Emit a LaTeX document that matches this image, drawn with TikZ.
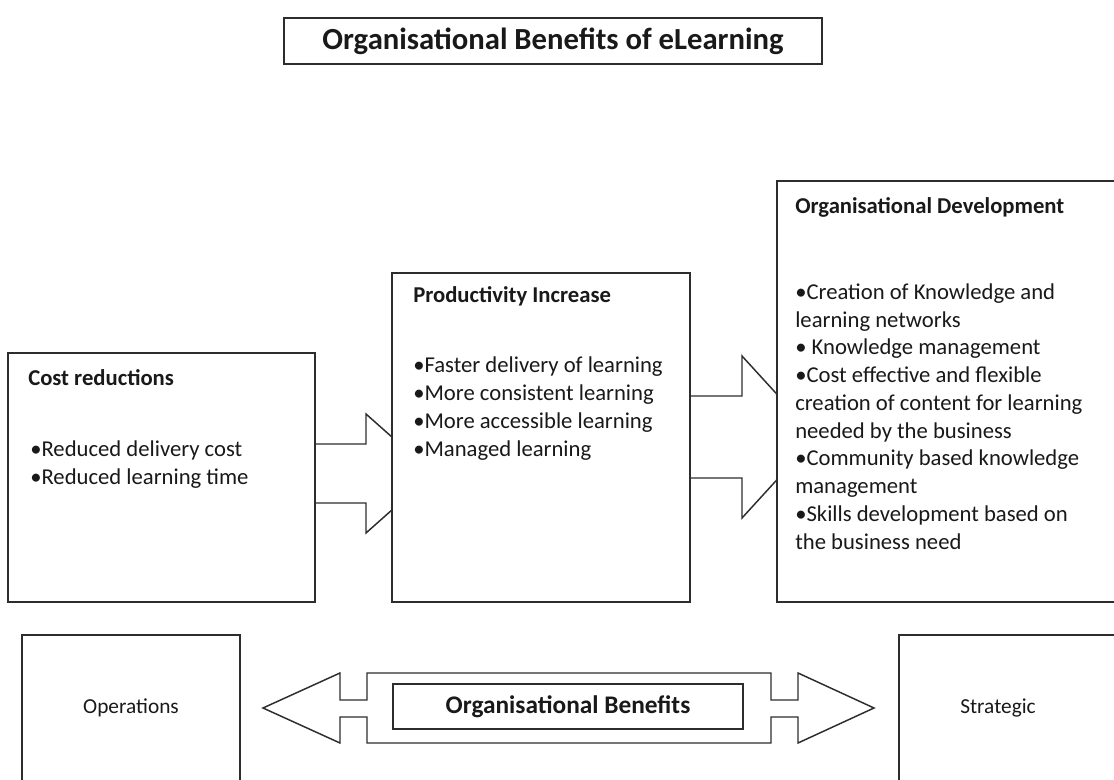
\documentclass[tikz,border=0pt]{standalone}
\usepackage{fontspec}
\setmainfont{Carlito}
\usetikzlibrary{positioning,fit}
\definecolor{linegray}{RGB}{45,45,45}
\definecolor{textgray}{RGB}{25,25,25}

\begin{document}
\begin{tikzpicture}[x=0.75pt,y=-0.75pt,
					box/.style={draw=linegray,line width=1.1pt,fill=white,inner sep=0pt},
					blockarrow/.style={draw=linegray,line width=1.1pt,line join=miter},
					headtext/.style={font=\fontsize{17}{20.8}\selectfont\bfseries,text=textgray,anchor=base west,inner sep=0pt},
					bodytext/.style={font=\fontsize{17}{20.8}\selectfont,text=textgray,anchor=base west,inner sep=0pt,align=left},
					sidetext/.style={font=\fontsize{16}{19}\selectfont,text=textgray,inner sep=0pt}
					]
					\useasboundingbox (0,0) rectangle (1114,780);
					\clip (0,0) rectangle (1114,780);
					
					% title
					\node[box, fit={(284,18) (822,64)}] (title) {};
					\node[font=\fontsize{23}{27}\selectfont\bfseries, text=textgray, inner sep=0pt] (titlelbl) at (title.center) {Organisational Benefits of eLearning};
					
					% block arrows first, the boxes cover their tips
					\draw[blockarrow] (315,444) -- (366,444) -- (366,414) -- (433,473.5) -- (366,533) -- (366,503) -- (315,503);
					\draw[blockarrow] (690,396) -- (742,396) -- (742,356) -- (816,437) -- (742,518) -- (742,478) -- (690,478);
					
					% three levels
					\node[box, fit={(8,353) (315,602)}] (cost) {};
					\node[box, fit={(392,273) (690,602)}] (prod) {};
					\node[box, fit={(777,181) (1125,602)}] (orgdev) {};
					
					% lists sit on the baseline of their last line
					\node[headtext] (costhead) at (28,386) {Cost reductions};
					\node[bodytext] (costlist) at (30,484) {•Reduced delivery cost\\
						•Reduced learning time};
					
					\node[headtext] (prodhead) at (413,303) {Productivity Increase};
					\node[bodytext] (prodlist) at (413,456) {•Faster delivery of learning\\
						•More consistent learning\\
						•More accessible learning\\
						•Managed learning};
					
					\node[headtext] (orgdevhead) at (795,214) {Organisational Development};
					\node[bodytext] (orgdevlist) at (795,549) {•Creation of Knowledge and\\
						learning networks\\
						• Knowledge management\\
						•Cost effective and flexible\\
						creation of content for learning\\
						needed by the business\\
						•Community based knowledge\\
						management\\
						•Skills development based on\\
						the business need};
					
					% bottom scale
					\node[box, fit={(22,635) (240,795)}] (ops) {};
					\node[box, fit={(899,635) (1125,795)}] (strat) {};
					\node[sidetext] (opslbl) at (131,708) {Operations};
					\node[sidetext] (stratlbl) at (998,708) {Strategic};
					
					\draw[blockarrow] (263,708) -- (340,673) -- (340,700) -- (367,700) -- (367,673)
					-- (771,673) -- (771,700) -- (798,700) -- (798,673) -- (874,708)
					-- (798,743) -- (798,717) -- (771,717) -- (771,743)
					-- (367,743) -- (367,717) -- (340,717) -- (340,743) -- cycle;
					
					\node[box, fit={(393,684) (743,729)}] (benefits) {};
					\node[font=\fontsize{19}{23}\selectfont\bfseries, text=textgray, inner sep=0pt] (benefitslbl) at (benefits.center) {Organisational Benefits};
				\end{tikzpicture}
\end{document}
